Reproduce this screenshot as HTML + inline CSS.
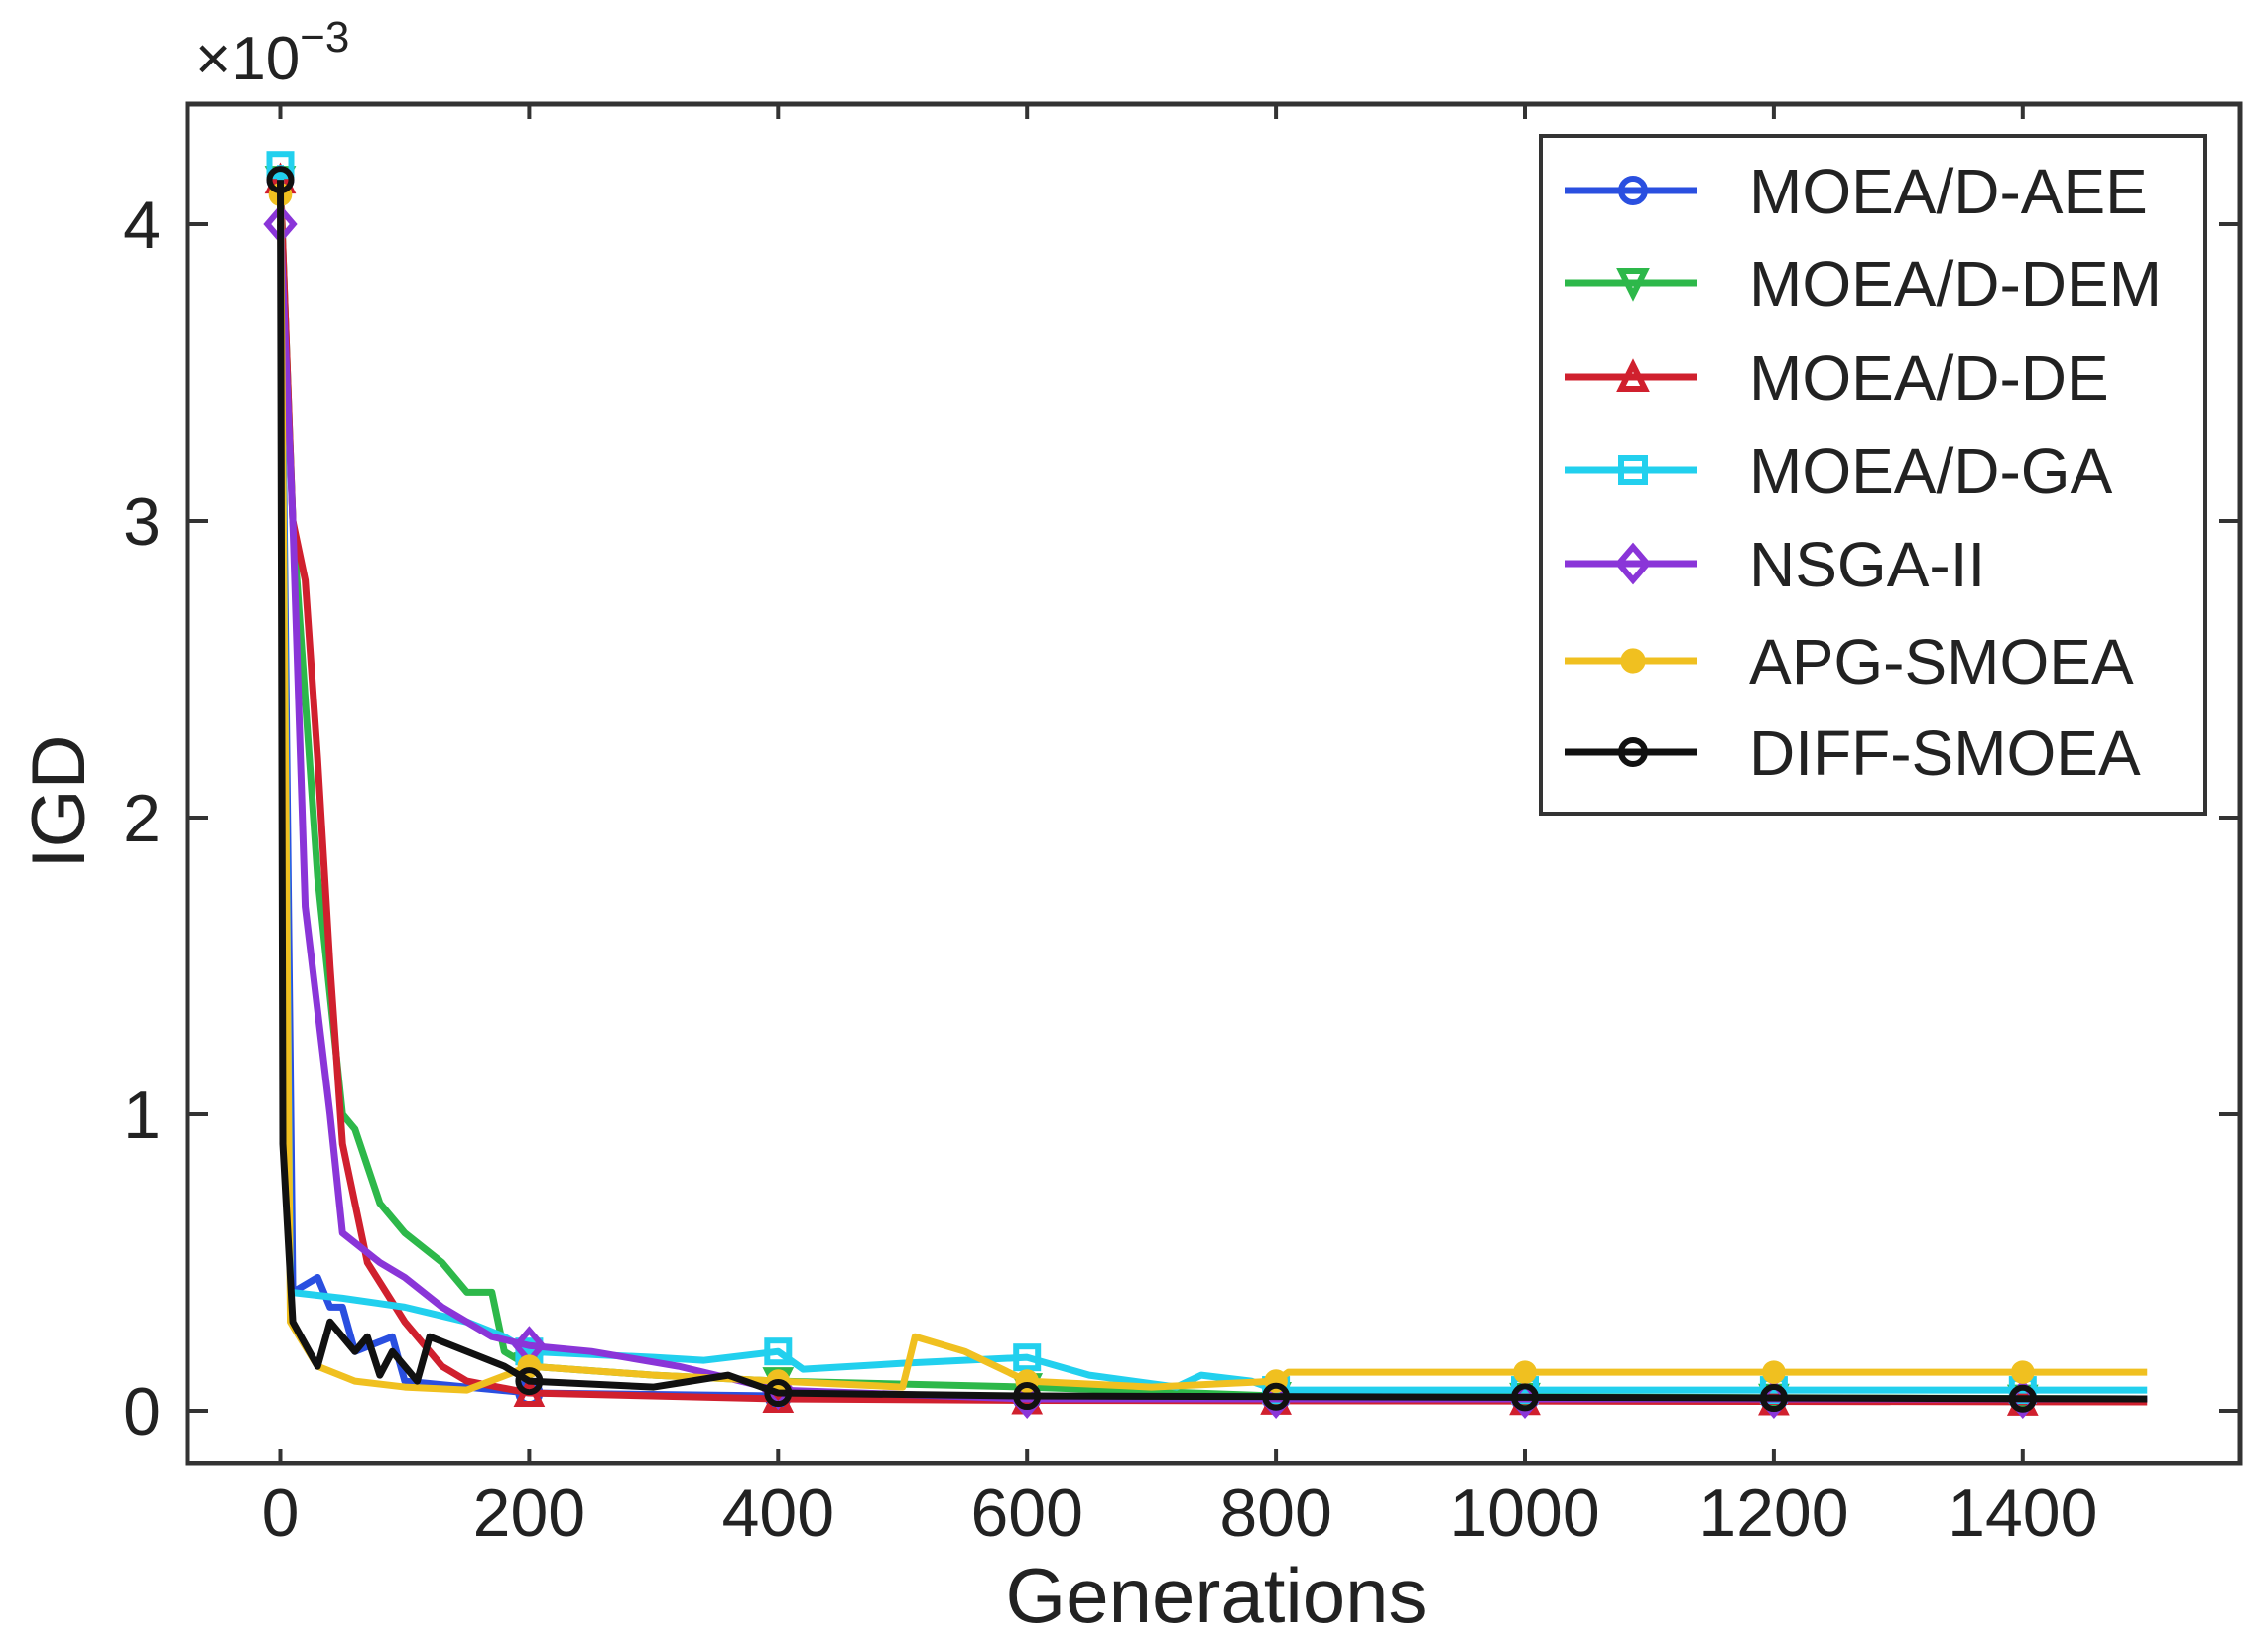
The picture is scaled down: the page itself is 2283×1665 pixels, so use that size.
<!DOCTYPE html>
<html><head><meta charset="utf-8"><style>
html,body{margin:0;padding:0;background:#fff;}
svg{display:block;font-family:"Liberation Sans",sans-serif;}
</style></head><body>
<svg id="chart" width="2283" height="1665" viewBox="0 0 2283 1665">
<rect x="0" y="0" width="2283" height="1665" fill="#fff"/>
<g id="plot"></g>
<rect x="189" y="105" width="2069" height="1370" fill="none" stroke="#333" stroke-width="5"/>
<g id="ticks"></g>
<text x="197" y="80" font-size="62" fill="#222">×10<tspan dy="-28" font-size="44">−3</tspan></text>
<text transform="translate(85,808) rotate(-90)" text-anchor="middle" font-size="76" fill="#222">IGD</text>
<text x="1226" y="1635" text-anchor="middle" font-size="78" fill="#222">Generations</text>
<g id="legend">
<rect x="1553" y="137" width="670" height="683" fill="#fff" stroke="#333" stroke-width="4"/>
</g>
</svg>
<script>
const xTicks=[0,200,400,600,800,1000,1200,1400];
const yTicks=[0,1,2,3,4];
const seriesNames=["MOEA/D-AEE","MOEA/D-DEM","MOEA/D-DE","MOEA/D-GA","NSGA-II","APG-SMOEA","DIFF-SMOEA"];
const seriesColors=["#2a4fe0","#2db84a","#d0202e","#22d0ee","#8a35d8","#f0c020","#111111"];
const seriesMarkers=["circle","tridown","triup","square","diamond","star","circle"];
const aeeX=[0,10,30,40,50,60,90,100,150,200,400,600,1500];
const aeeY=[4.15,0.4,0.45,0.35,0.35,0.2,0.25,0.1,0.08,0.06,0.05,0.04,0.04];
const demX=[0,10,30,50,60,80,100,130,150,170,180,200,300,400,600,800,1500];
const demY=[4.15,3.0,1.8,1.0,0.95,0.7,0.6,0.5,0.4,0.4,0.2,0.15,0.12,0.1,0.08,0.05,0.04];
const deX=[0,10,20,30,40,50,70,100,130,150,200,400,600,1500];
const deY=[4.15,3.0,2.8,2.2,1.5,0.9,0.5,0.3,0.15,0.1,0.06,0.04,0.035,0.03];
const gaX=[0,8,50,100,150,180,200,300,340,400,420,500,600,650,720,740,780,800,1500];
const gaY=[4.2,0.4,0.38,0.35,0.3,0.25,0.2,0.18,0.17,0.2,0.14,0.16,0.18,0.12,0.08,0.12,0.1,0.07,0.07];
const nsgaX=[0,10,20,40,50,80,100,130,170,200,250,320,400,600,1500];
const nsgaY=[4.0,3.0,1.7,1.0,0.6,0.5,0.45,0.35,0.25,0.22,0.2,0.15,0.07,0.04,0.04];
const apgX=[0,8,30,60,100,150,200,300,400,500,510,550,600,700,800,810,1500];
const apgY=[4.1,0.3,0.15,0.1,0.08,0.07,0.15,0.12,0.1,0.08,0.25,0.2,0.1,0.08,0.1,0.13,0.13];
const diffX=[0,2,10,30,40,60,70,80,90,110,120,180,200,300,360,400,600,1500];
const diffY=[4.15,0.9,0.3,0.15,0.3,0.2,0.25,0.12,0.2,0.1,0.25,0.15,0.1,0.08,0.12,0.06,0.05,0.04];
const allX=[aeeX,demX,deX,gaX,nsgaX,apgX,diffX];
const allY=[aeeY,demY,deY,gaY,nsgaY,apgY,diffY];
const markerGens=[0,200,400,600,800,1000,1200,1400];

const NS="http://www.w3.org/2000/svg";
const X0=282.5, XS=1.2545, Y0=1422, YS=299;
function sx(v){return X0+v*XS;}
function sy(v){return Y0-v*YS;}
function mk(t,a){const e=document.createElementNS(NS,t);for(const k in a)e.setAttribute(k,a[k]);return e;}
function interp(xs,ys,x){for(let i=1;i<xs.length;i++){if(x<=xs[i]){const t=(x-xs[i-1])/(xs[i]-xs[i-1]);return ys[i-1]+t*(ys[i]-ys[i-1]);}}return ys[ys.length-1];}
function marker(type,cx,cy,color,r){
  let e;
  if(type==="circle") e=mk("circle",{cx:cx,cy:cy,r:r});
  else if(type==="square") e=mk("rect",{x:cx-r,y:cy-r,width:2*r,height:2*r});
  else if(type==="diamond") e=mk("polygon",{points:`${cx},${cy-r*1.4} ${cx+r*1.2},${cy} ${cx},${cy+r*1.4} ${cx-r*1.2},${cy}`});
  else if(type==="triup") e=mk("polygon",{points:`${cx},${cy-r} ${cx+r},${cy+r} ${cx-r},${cy+r}`});
  else if(type==="tridown") e=mk("polygon",{points:`${cx-r},${cy-r} ${cx+r},${cy-r} ${cx},${cy+r}`});
  else e=mk("circle",{cx:cx,cy:cy,r:r*0.8});
  e.setAttribute("fill",type==="star"?color:"none");
  e.setAttribute("stroke",color);
  e.setAttribute("stroke-width","6");
  return e;
}
const plot=document.getElementById("plot");
for(let s=0;s<seriesNames.length;s++){
  const g=mk("g",{});
  
  
  const pts=allX[s].map((x,i)=>sx(x)+","+sy(allY[s][i])).join(" ");
  const pl=mk("polyline",{points:pts,fill:"none",stroke:seriesColors[s],"stroke-width":"7","stroke-linejoin":"round"});
  
  
  g.appendChild(pl);
  markerGens.forEach(mg=>{
    const m=marker(seriesMarkers[s],sx(mg),sy(interp(allX[s],allY[s],mg)),seriesColors[s],11);
    
    
    g.appendChild(m);
  });
  plot.appendChild(g);
}
const ticks=document.getElementById("ticks");
xTicks.forEach(v=>{
  const x=sx(v);
  ticks.appendChild(mk("line",{x1:x,y1:1475,x2:x,y2:1460,stroke:"#333","stroke-width":"4"}));
  ticks.appendChild(mk("line",{x1:x,y1:105,x2:x,y2:120,stroke:"#333","stroke-width":"4"}));
  const t=mk("text",{x:x,y:1548,"text-anchor":"middle","font-size":"68",fill:"#222"});
  t.textContent=v;
  
  
  ticks.appendChild(t);
});
yTicks.forEach(v=>{
  const y=sy(v);
  ticks.appendChild(mk("line",{x1:189,y1:y,x2:210,y2:y,stroke:"#333","stroke-width":"4"}));
  ticks.appendChild(mk("line",{x1:2258,y1:y,x2:2237,y2:y,stroke:"#333","stroke-width":"4"}));
  const t=mk("text",{x:162,y:y+24,"text-anchor":"end","font-size":"68",fill:"#222"});
  t.textContent=v;
  
  
  ticks.appendChild(t);
});
const legend=document.getElementById("legend");
const rowY=[192,285,380,474,568,666,758];
for(let s=0;s<seriesNames.length;s++){
  const y=rowY[s];
  const g=mk("g",{});
  
  
  g.appendChild(mk("line",{x1:1577,y1:y,x2:1710,y2:y,stroke:seriesColors[s],"stroke-width":"7"}));
  g.appendChild(marker(seriesMarkers[s],1646,y,seriesColors[s],12));
  const t=mk("text",{x:1763,y:y+23,"font-size":"64",fill:"#222"});
  t.textContent=seriesNames[s];
  g.appendChild(t);
  legend.appendChild(g);
}
</script>
</body></html>
